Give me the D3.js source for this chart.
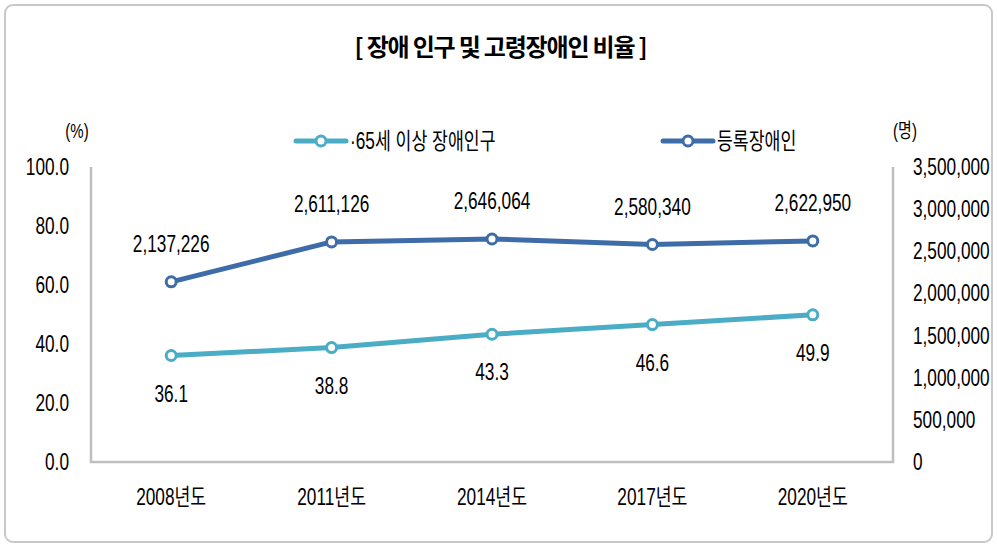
<!DOCTYPE html>
<html>
<head>
<meta charset="utf-8">
<script src="https://cdn.jsdelivr.net/npm/d3@7"></script>
<style>
  body { margin: 0; background: #fff; }
  text { font-family: "Liberation Sans", "Noto Sans CJK KR", sans-serif; fill: #000; }
</style>
</head>
<body>
<svg id="chart"></svg>
<script>
// data
const years = ['2008년도', '2011년도', '2014년도', '2017년도', '2020년도'];
const elderlyRatio = [36.1, 38.8, 43.3, 46.6, 49.9];
const registered = [2137226, 2611126, 2646064, 2580340, 2622950];
const leftTicks = [0, 20, 40, 60, 80, 100];
const rightTicks = [0, 500000, 1000000, 1500000, 2000000, 2500000, 3000000, 3500000];
const seriesNames = ['·65세 이상 장애인구', '등록장애인'];

const W = 997, H = 547;
const margin = { top: 167, right: 104, bottom: 85, left: 91 };
const width = W - margin.left - margin.right;
const height = H - margin.top - margin.bottom;

const lightColor = '#4bacc6';
const darkColor = '#3d6ca8';
const fontSize = 23;
const squeeze = 0.75; // narrow look of the original font

const svg = d3.select('#chart')
  .attr('width', W)
  .attr('height', H);

// put narrow text at (x, y)
function narrowText(sel, xf, yf)
{
  return sel
    .attr('transform', (d, i) => `translate(${xf(d, i)},${yf(d, i)}) scale(${squeeze},1)`)
    .attr('dy', '0.35em')
    .style('font-size', fontSize + 'px');
}

// outer frame
svg.append('rect')
  .attr('x', 5).attr('y', 5)
  .attr('width', W - 10).attr('height', H - 10)
  .attr('rx', 8)
  .attr('fill', 'none')
  .attr('stroke', '#c8c8c8')
  .attr('stroke-width', 2);

// title
svg.append('text')
  .attr('x', W / 2 + 2)
  .attr('y', 56)
  .attr('text-anchor', 'middle')
  .style('font-family', '"Noto Sans CJK KR", sans-serif')
  .style('font-size', '24px')
  .style('font-weight', 'bold')
  .style('letter-spacing', '-1.2px')
  .text('[ 장애 인구 및 고령장애인 비율 ]');

const g = svg.append('g')
  .attr('transform', `translate(${margin.left},${margin.top})`);

const x = d3.scaleBand().domain(years).range([0, width]);
const yLeft = d3.scaleLinear().domain([0, 100]).range([height, 0]);
const yRight = d3.scaleLinear().domain([0, 3500000]).range([height, 0]);
const cx = d => x(d) + x.bandwidth() / 2;

// axis lines (left, bottom, right)
g.append('path')
  .attr('d', `M0,0V${height}H${width}V0`)
  .attr('fill', 'none')
  .attr('stroke', '#bfbfbf')
  .attr('stroke-width', 2.5);

// left tick labels
g.append('g')
  .selectAll('text')
  .data(leftTicks)
  .enter()
  .append('text')
  .call(narrowText, () => -22, d => yLeft(d))
  .attr('text-anchor', 'end')
  .text(d => d.toFixed(1));

// right tick labels
const fmt = d3.format(',');
g.append('g')
  .selectAll('text')
  .data(rightTicks)
  .enter()
  .append('text')
  .call(narrowText, () => width + 20, d => yRight(d))
  .attr('text-anchor', 'start')
  .text(d => fmt(d));

// unit labels
svg.append('text')
  .attr('transform', `translate(77,131) scale(${squeeze},1)`)
  .attr('dy', '0.35em')
  .attr('text-anchor', 'middle')
  .style('font-size', '20px')
  .text('(%)');
svg.append('text')
  .attr('transform', `translate(905,131) scale(${squeeze},1)`)
  .attr('dy', '0.35em')
  .attr('text-anchor', 'middle')
  .style('font-size', '20px')
  .text('(명)');

// x labels
g.append('g')
  .selectAll('text')
  .data(years)
  .enter()
  .append('text')
  .call(narrowText, d => cx(d), () => height + 35)
  .attr('text-anchor', 'middle')
  .text(d => d);

// lines
const lineLeft = d3.line().x((d, i) => cx(years[i])).y(d => yLeft(d));
const lineRight = d3.line().x((d, i) => cx(years[i])).y(d => yRight(d));

function drawSeries(values, line, color, yScale, labelOffset, labelFmt)
{
  g.append('path')
    .datum(values)
    .attr('d', line)
    .attr('fill', 'none')
    .attr('stroke', color)
    .attr('stroke-width', 5)
    .attr('stroke-linejoin', 'round');

  g.append('g')
    .selectAll('circle')
    .data(values)
    .enter()
    .append('circle')
    .attr('cx', (d, i) => cx(years[i]))
    .attr('cy', d => yScale(d))
    .attr('r', 5)
    .attr('fill', '#fff')
    .attr('stroke', color)
    .attr('stroke-width', 3);

  g.append('g')
    .selectAll('text')
    .data(values)
    .enter()
    .append('text')
    .call(narrowText, (d, i) => cx(years[i]), d => yScale(d) + labelOffset)
    .attr('text-anchor', 'middle')
    .text(labelFmt);
}

drawSeries(elderlyRatio, lineLeft, lightColor, yLeft, 38, d => d.toFixed(1));
drawSeries(registered, lineRight, darkColor, yRight, -38, d => fmt(d));

// legend
const legendData = [
  { name: seriesNames[0], color: lightColor, x: 296 },
  { name: seriesNames[1], color: darkColor, x: 663 }
];
const legend = svg.append('g')
  .selectAll('g')
  .data(legendData)
  .enter()
  .append('g')
  .attr('transform', d => `translate(${d.x},141)`);

legend.append('line')
  .attr('x1', 0).attr('x2', 50)
  .attr('stroke', d => d.color)
  .attr('stroke-width', 5)
  .attr('stroke-linecap', 'round');
legend.append('circle')
  .attr('cx', 25)
  .attr('r', 5)
  .attr('fill', '#fff')
  .attr('stroke', d => d.color)
  .attr('stroke-width', 3);
legend.append('text')
  .call(narrowText, () => 54, () => 0)
  .attr('text-anchor', 'start')
  .text(d => d.name);
</script>
</body>
</html>
